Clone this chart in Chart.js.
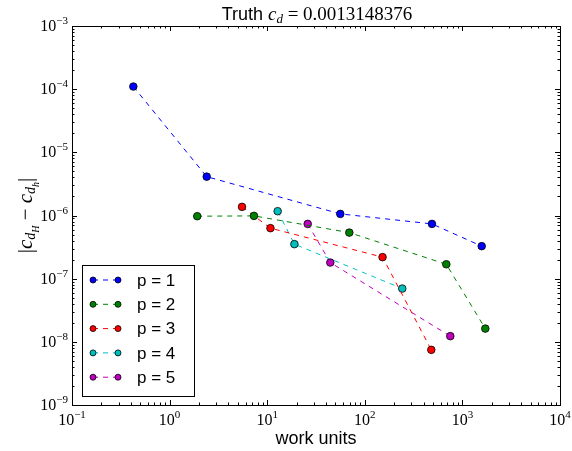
<!DOCTYPE html>
<html><head><meta charset="utf-8">
<style>html,body{margin:0;padding:0;background:#fff}#wrap{width:572px;height:451px;position:relative}</style>
<script src="https://cdn.jsdelivr.net/npm/chart.js@4/dist/chart.umd.min.js"></script>
</head><body><div id="wrap"><canvas id="c" width="572" height="451"></canvas></div>
<script>
const seriesLabels = ['p = 1', 'p = 2', 'p = 3', 'p = 4', 'p = 5'];
const seriesColors = ['#0000ff', '#008000', '#ff0000', '#00bfbf', '#bf00bf'];
const p1Work = [0.425, 2.40, 56.1, 488, 1577];
const p1Err  = [1.10e-4, 4.12e-6, 1.06e-6, 7.36e-7, 3.27e-7];
const p2Work = [1.92, 7.32, 69.4, 684, 1717];
const p2Err  = [9.75e-7, 9.86e-7, 5.36e-7, 1.69e-7, 1.62e-8];
const p3Work = [5.52, 10.8, 152, 480];
const p3Err  = [1.37e-6, 6.30e-7, 2.19e-7, 7.47e-9];
const p4Work = [12.8, 19.0, 242];
const p4Err  = [1.17e-6, 3.52e-7, 6.97e-8];
const p5Work = [26.0, 44.3, 752];
const p5Err  = [7.36e-7, 1.80e-7, 1.23e-8];
const xTickExps = [-1, 0, 1, 2, 3, 4];
const yTickExps = [-9, -8, -7, -6, -5, -4, -3];
const titleText = 'Truth ';
const titleValue = '0.0013148376';
const xLabel = 'work units';

const works = [p1Work, p2Work, p3Work, p4Work, p5Work];
const errs = [p1Err, p2Err, p3Err, p4Err, p5Err];

const SANS = '"Liberation Sans", Arial, sans-serif';
const SERIF = '"Liberation Serif", "DejaVu Serif", serif';

function richWidth(ctx, segs) {
  let w = 0;
  for (const s of segs) { ctx.font = s.f; w += ctx.measureText(s.t).width; }
  return w;
}
function drawRich(ctx, segs, x, y, align) {
  const w = richWidth(ctx, segs);
  let cx = align === 'center' ? x - w / 2 : (align === 'right' ? x - w : x);
  ctx.textBaseline = 'alphabetic';
  ctx.textAlign = 'left';
  for (const s of segs) {
    ctx.font = s.f;
    ctx.fillText(s.t, cx, y + (s.dy || 0));
    cx += ctx.measureText(s.t).width;
  }
}
function sup(n) {
  const map = {'-': '\u2212'};
  return String(n).split('').map(c => map[c] || c).join('');
}

const datasets = seriesLabels.map((lab, i) => ({
  label: lab,
  data: works[i].map((x, j) => ({x: x, y: errs[i][j]})),
  showLine: true,
  borderColor: seriesColors[i],
  borderWidth: 1,
  borderDash: [5, 5],
  pointBackgroundColor: seriesColors[i],
  pointBorderColor: '#000',
  pointBorderWidth: 0.8,
  pointRadius: 3.8,
  pointHoverRadius: 3.8,
  fill: false,
  tension: 0
}));

const decor = {
  id: 'decor',
  afterDraw(chart) {
    const ctx = chart.ctx;
    const a = chart.chartArea;
    const xs = chart.scales.x, ys = chart.scales.y;
    ctx.save();
    ctx.strokeStyle = '#000';
    ctx.fillStyle = '#000';
    ctx.lineWidth = 1;
    const majL = 5, minL = 2.5;
    ctx.beginPath();
    for (let e = xTickExps[0]; e <= xTickExps[xTickExps.length - 1]; e++) {
      const px = Math.round(xs.getPixelForValue(Math.pow(10, e))) + 0.5;
      ctx.moveTo(px, a.bottom); ctx.lineTo(px, a.bottom - majL);
      ctx.moveTo(px, a.top); ctx.lineTo(px, a.top + majL);
      if (e < xTickExps[xTickExps.length - 1]) {
        for (let m = 2; m <= 9; m++) {
          const q = Math.round(xs.getPixelForValue(m * Math.pow(10, e))) + 0.5;
          ctx.moveTo(q, a.bottom); ctx.lineTo(q, a.bottom - minL);
          ctx.moveTo(q, a.top); ctx.lineTo(q, a.top + minL);
        }
      }
    }
    for (let e = yTickExps[0]; e <= yTickExps[yTickExps.length - 1]; e++) {
      const py = Math.round(ys.getPixelForValue(Math.pow(10, e))) + 0.5;
      ctx.moveTo(a.left, py); ctx.lineTo(a.left + majL, py);
      ctx.moveTo(a.right, py); ctx.lineTo(a.right - majL, py);
      if (e < yTickExps[yTickExps.length - 1]) {
        for (let m = 2; m <= 9; m++) {
          const q = Math.round(ys.getPixelForValue(m * Math.pow(10, e))) + 0.5;
          ctx.moveTo(a.left, q); ctx.lineTo(a.left + minL, q);
          ctx.moveTo(a.right, q); ctx.lineTo(a.right - minL, q);
        }
      }
    }
    ctx.stroke();
    ctx.strokeRect(Math.round(a.left) + 0.5, Math.round(a.top) + 0.5, Math.round(a.right - a.left), Math.round(a.bottom - a.top));
    const big = '16px ' + SERIF, small = '11px ' + SERIF;
    for (const e of xTickExps) {
      const px = xs.getPixelForValue(Math.pow(10, e));
      drawRich(ctx, [{t: '10', f: big}, {t: sup(e), f: small, dy: -7}], px, a.bottom + 20, 'center');
    }
    for (const e of yTickExps) {
      const py = ys.getPixelForValue(Math.pow(10, e));
      drawRich(ctx, [{t: '10', f: big}, {t: sup(e), f: small, dy: -7}], a.left - 4, py + 5, 'right');
    }
    // title
    drawRich(ctx, [
      {t: titleText, f: '18px ' + SANS},
      {t: 'c', f: 'italic 19px ' + SERIF},
      {t: 'd', f: 'italic 13px ' + SERIF, dy: 3},
      {t: ' = ' + titleValue, f: '19px ' + SERIF}
    ], 317, 20, 'center');
    ctx.font = '18px ' + SANS;
    ctx.textAlign = 'center';
    ctx.textBaseline = 'alphabetic';
    ctx.fillText(xLabel, (a.left + a.right) / 2, 444);
    // y label
    ctx.save();
    ctx.translate(26, (a.top + a.bottom) / 2);
    ctx.rotate(-Math.PI / 2);
    drawRich(ctx, [
      {t: '|', f: '21px ' + SERIF},
      {t: 'c', f: 'italic 21px ' + SERIF},
      {t: 'd', f: 'italic 14px ' + SERIF, dy: 3},
      {t: 'H', f: 'italic 10px ' + SERIF, dy: 7},
      {t: ' \u2212 ', f: '21px ' + SERIF},
      {t: 'c', f: 'italic 21px ' + SERIF},
      {t: 'd', f: 'italic 14px ' + SERIF, dy: 3},
      {t: 'h', f: 'italic 10px ' + SERIF, dy: 7},
      {t: '|', f: '21px ' + SERIF}
    ], 0, 6, 'center');
    ctx.restore();
    // legend
    const lx = 82, ly = 265, lw = 112, lh = 131;
    ctx.fillStyle = '#fff';
    ctx.fillRect(lx, ly, lw, lh);
    ctx.strokeStyle = '#000';
    ctx.lineWidth = 1;
    ctx.strokeRect(lx + 0.5, ly + 0.5, lw, lh);
    chart.data.datasets.forEach((ds, i) => {
      const y = 280 + i * 24.3;
      ctx.save();
      ctx.strokeStyle = ds.borderColor;
      ctx.lineWidth = 1;
      ctx.setLineDash([5, 5]);
      ctx.beginPath(); ctx.moveTo(93, y); ctx.lineTo(118, y); ctx.stroke();
      ctx.restore();
      for (const mx of [93, 118]) {
        ctx.beginPath();
        ctx.arc(mx, y, 3, 0, Math.PI * 2);
        ctx.fillStyle = ds.pointBackgroundColor;
        ctx.fill();
        ctx.lineWidth = 0.8;
        ctx.strokeStyle = '#000';
        ctx.stroke();
      }
      ctx.fillStyle = '#000';
      ctx.font = '17px ' + SANS;
      ctx.textAlign = 'left';
      ctx.textBaseline = 'middle';
      ctx.fillText(ds.label, 137, y + 1);
    });
    ctx.restore();
  }
};

new Chart(document.getElementById('c'), {
  type: 'scatter',
  data: {datasets: datasets},
  options: {
    responsive: false,
    animation: false,
    devicePixelRatio: 1,
    layout: {padding: {left: 72, right: 12, top: 26, bottom: 46}},
    plugins: {legend: {display: false}, tooltip: {enabled: false}, title: {display: false}},
    scales: {
      x: {type: 'logarithmic', min: 0.1, max: 10000, display: false},
      y: {type: 'logarithmic', min: 1e-9, max: 1e-3, display: false}
    },
    elements: {line: {tension: 0}}
  },
  plugins: [decor]
});
</script>
</body></html>
